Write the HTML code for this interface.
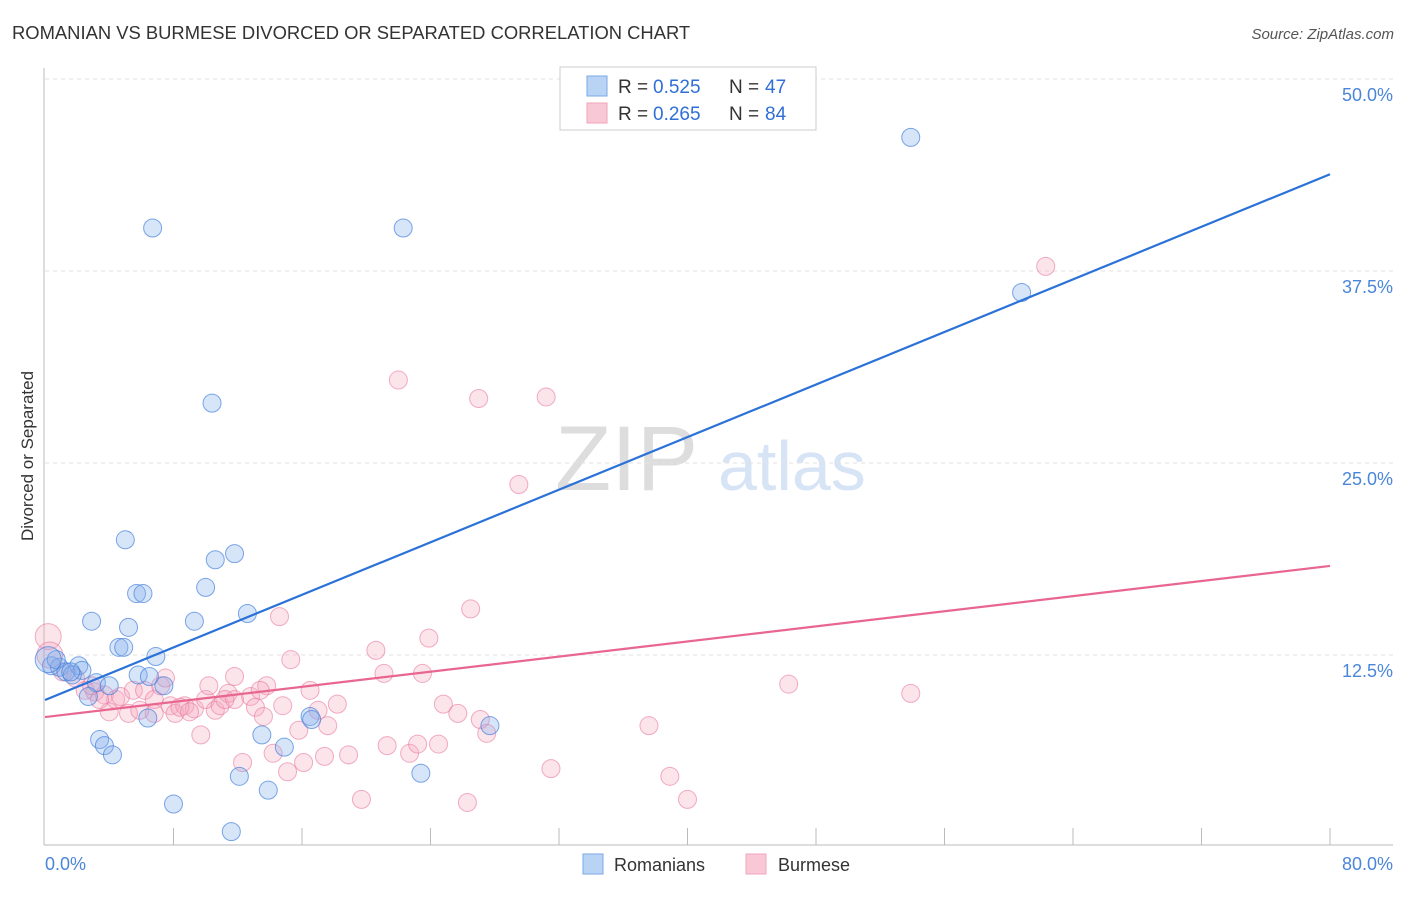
<!DOCTYPE html>
<html><head><meta charset="utf-8"><style>
body{margin:0;background:#fff;font-family:"Liberation Sans",sans-serif}
svg text{font-family:"Liberation Sans",sans-serif}
</style></head><body>
<svg id="chart" width="1406" height="892">
<text x="12" y="39" font-size="18.4" fill="#333">ROMANIAN VS BURMESE DIVORCED OR SEPARATED CORRELATION CHART</text>
<text x="1394" y="39" font-size="15" font-style="italic" fill="#555" text-anchor="end">Source: ZipAtlas.com</text>
<text transform="translate(33,456) rotate(-90)" font-size="17" fill="#333" text-anchor="middle">Divorced or Separated</text>
<g><text x="555" y="490" font-size="92" font-family="Liberation Serif,serif" fill="#ddd">ZIP</text><text x="718" y="490" font-size="70" fill="#d6e4f5">atlas</text></g>
<g id="grid"></g><g id="ticks"></g>
<line x1="44" y1="68" x2="44" y2="845" stroke="#bbb"/>
<line x1="44" y1="845" x2="1393" y2="845" stroke="#bbb"/>
<text x="45" y="870" font-size="18" fill="#4a86d8">0.0%</text>
<text x="1393" y="870" font-size="18" fill="#4a86d8" text-anchor="end">80.0%</text>
<g id="points"></g><g id="lines"></g>
<g>
<rect x="560" y="67" width="256" height="63" fill="#fff" stroke="#ccc"/>
<rect x="587" y="76" width="20" height="20" fill="#b9d3f5" stroke="#7aa8e6"/>
<rect x="587" y="103" width="20" height="20" fill="#f9c8d6" stroke="#efa3ba"/>
<text x="618" y="93" font-size="19" fill="#333">R = </text><text x="653" y="93" font-size="19" fill="#2f6fd6">0.525</text>
<text x="729" y="93" font-size="19" fill="#333">N = </text><text x="765" y="93" font-size="19" fill="#2f6fd6">47</text>
<text x="618" y="120" font-size="19" fill="#333">R = </text><text x="653" y="120" font-size="19" fill="#2f6fd6">0.265</text>
<text x="729" y="120" font-size="19" fill="#333">N = </text><text x="765" y="120" font-size="19" fill="#2f6fd6">84</text>
</g>
<g>
<rect x="583" y="854" width="20" height="20" fill="#b9d3f5" stroke="#7aa8e6"/>
<text x="614" y="871" font-size="18" fill="#333">Romanians</text>
<rect x="746" y="854" width="20" height="20" fill="#f9c8d6" stroke="#efa3ba"/>
<text x="778" y="871" font-size="18" fill="#333">Burmese</text>
</g>
</svg>
<script>
const yTicks=[12.5,25,37.5,50];
const yTickLabels=["12.5%","25.0%","37.5%","50.0%"];
const romX=[53.9,6.7,22.3,10.4,60.8,5.0,10.6,11.8,10.0,5.7,6.1,2.9,9.3,5.2,12.6,4.6,4.9,6.9,0.4,0.9,2.1,2.3,1.3,1.7,3.2,4.0,5.8,6.5,7.4,2.7,6.4,3.4,3.7,4.2,13.5,14.9,16.5,16.6,23.4,27.7,12.1,13.9,8.0,11.6,1.6,0.7,0.2];
const romY=[46.2,40.3,40.3,28.9,36.1,20.0,18.7,19.1,16.9,16.5,16.5,14.7,14.7,14.3,15.2,13.0,13.0,12.4,11.8,11.7,11.8,11.5,11.4,11.2,10.7,10.5,11.2,11.1,10.5,9.8,8.4,7.0,6.6,6.0,7.3,6.5,8.5,8.3,4.8,7.9,4.6,3.7,2.8,1.0,11.4,12.2,12.2];
const burX=[62.3,22.0,27.0,31.2,29.5,26.5,14.6,23.9,15.3,20.6,21.1,23.5,0.2,0.3,46.3,53.9,1.1,1.9,2.5,3.1,3.7,4.4,4.7,5.5,6.2,6.8,7.2,7.5,7.8,8.1,8.7,9.3,10.0,10.2,10.6,10.9,11.4,11.8,11.8,12.8,13.1,13.6,13.8,14.8,15.8,16.5,17.0,17.6,18.2,4.0,5.2,6.8,9.7,12.3,14.2,15.1,16.1,17.4,18.9,19.7,21.3,22.7,23.2,24.5,24.8,25.7,27.1,27.5,31.5,26.3,37.6,38.9,40.0,2.9,3.4,5.9,8.4,11.2,13.4,9.0];
const burY=[37.8,30.4,29.2,29.3,23.6,15.5,15.0,13.6,12.2,12.8,11.3,11.3,13.7,12.5,10.6,10.0,11.4,11.0,10.2,10.1,9.9,9.6,9.8,10.2,10.2,9.6,10.5,11.0,9.2,8.7,9.2,9.0,9.6,10.5,8.9,9.2,10.0,11.1,9.6,9.8,9.1,8.5,10.5,9.2,7.6,10.2,8.9,7.9,9.3,8.8,8.7,8.7,7.3,5.5,6.1,4.9,5.5,5.9,6.0,3.1,6.6,6.1,6.7,6.7,9.3,8.7,8.3,7.4,5.1,2.9,7.9,4.6,3.1,10.5,9.6,8.9,9.1,9.6,10.2,8.8];
const romTrend=[9.57,43.8];
const burTrend=[8.46,18.3];
const NS="http://www.w3.org/2000/svg";
const xS=v=>45+v/80*1285, yS=v=>847-v*15.36;
function mk(t,a,p){const e=document.createElementNS(NS,t);for(const k in a)e.setAttribute(k,a[k]);p.appendChild(e);return e;}
const grid=document.getElementById('grid'),ticks=document.getElementById('ticks');
yTicks.forEach((v,i)=>{
 const l=mk('line',{x1:45,x2:1393,y1:yS(v),y2:yS(v),stroke:'#e2e2e2','stroke-dasharray':'4,4'},grid);
 
 
 const t=mk('text',{x:1393,y:yS(v)+22,'font-size':18,fill:'#4a86d8','text-anchor':'end'},ticks);
 t.textContent=yTickLabels[i];
 
 
});
for(let k=1;k<=10;k++){
 const l=mk('line',{x1:xS(k*8),x2:xS(k*8),y1:828,y2:845,stroke:'#bbb'},ticks);
 
 
}
const pts=document.getElementById('points');
burX.forEach((x,i)=>{
 const big=x<0.5;
 const c=mk('circle',{cx:xS(x),cy:yS(burY[i]),r:big?13:9,fill:'rgba(245,165,190,0.3)',stroke:'rgba(232,120,160,0.6)','stroke-width':1},pts);
 
 
});
romX.forEach((x,i)=>{
 const big=x<0.3;
 const c=mk('circle',{cx:xS(x),cy:yS(romY[i]),r:big?13:9,fill:'rgba(130,175,235,0.32)',stroke:'rgba(70,130,220,0.7)','stroke-width':1},pts);
 
 
});
const ln=document.getElementById('lines');
const a=mk('line',{x1:xS(0),y1:yS(romTrend[0]),x2:xS(80),y2:yS(romTrend[1]),stroke:'#2a72d8','stroke-width':2.2},ln);


const b=mk('line',{x1:xS(0),y1:yS(burTrend[0]),x2:xS(80),y2:yS(burTrend[1]),stroke:'#e8668f','stroke-width':2.2},ln);


</script>
</body></html>
